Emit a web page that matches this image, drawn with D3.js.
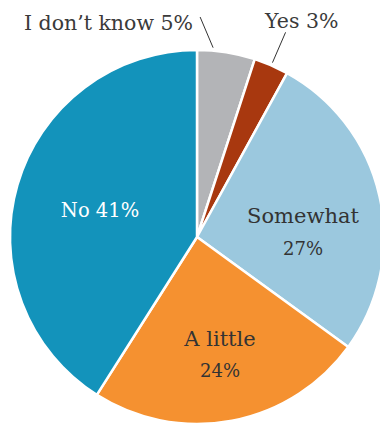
<!DOCTYPE html>
<html>
<head>
<meta charset="utf-8">
<script src="https://cdn.jsdelivr.net/npm/d3@7"></script>
<style>
  html, body { margin: 0; padding: 0; background: #fff; }
  svg { display: block; }
  text { font-family: "DejaVu Serif", "Liberation Serif", serif; }
</style>
</head>
<body>
<svg id="chart" width="380" height="423"></svg>
<script>
// Survey answers, clockwise from 12 o'clock
const categories = ["I don\u2019t know", "Yes", "Somewhat", "A little", "No"];
const shares = [5, 3, 27, 24, 41];
const colors = ["#b3b4b7", "#a8380f", "#9bc8de", "#f59130", "#1393bb"];

const width = 380, height = 423;
const cx = 197, cy = 237, radius = 187;

const svg = d3.select("#chart");
const g = svg.append("g").attr("transform", `translate(${cx},${cy})`);

const data = categories.map((c, i) => ({ name: c, value: shares[i], color: colors[i] }));

const pie = d3.pie().value(d => d.value).sort(null).startAngle(0).endAngle(2 * Math.PI);
const arcs = pie(data);
const arc = d3.arc().innerRadius(0).outerRadius(radius);

g.selectAll("path.slice")
  .data(arcs)
  .join("path")
  .attr("class", "slice")
  .attr("d", arc)
  .attr("fill", d => d.data.color)
  .attr("stroke", "#fff")
  .attr("stroke-width", 2.5)
  .attr("stroke-linejoin", "round");

// point at fraction t across a slice's angle, at radius r (0 = up)
function polar(a, t, r) {
  const ang = a.startAngle + (a.endAngle - a.startAngle) * t;
  return [Math.sin(ang) * r, -Math.cos(ang) * r];
}

// Outside labels with leader lines
const outside = {
  "I don\u2019t know": { from: [0.27, 190], to: [0.045, 220], label: [-4, -207], anchor: "end", size: 20.5 },
  "Yes": { from: [0.5, 190], to: [0.5, 223], label: [68, -209], anchor: "start", size: 20.5 }
};
// Inside labels: first line / second line positions relative to centre
const inside = {
  "Somewhat": { lines: 2, x: 106, ys: [-14, 18], fill: "#333", size: 21 },
  "A little": { lines: 2, x: 23, ys: [109, 140], fill: "#333", size: 21 },
  "No": { lines: 1, x: -97, ys: [-20], fill: "#fff", size: 19.5 }
};

arcs.forEach(a => {
  const o = outside[a.data.name];
  if (o) {
    const p1 = polar(a, o.from[0], o.from[1]);
    const p2 = polar(a, o.to[0], o.to[1]);
    g.append("line")
      .attr("x1", p1[0]).attr("y1", p1[1])
      .attr("x2", p2[0]).attr("y2", p2[1])
      .attr("stroke", "#333").attr("stroke-width", 1);
    g.append("text")
      .attr("x", o.label[0]).attr("y", o.label[1])
      .attr("text-anchor", o.anchor)
      .attr("font-size", o.size)
      .attr("fill", "#3a3a3a")
      .text(`${a.data.name} ${a.data.value}%`);
  }
  const ins = inside[a.data.name];
  if (ins) {
    const t = g.append("text")
      .attr("text-anchor", "middle")
      .attr("font-size", ins.size)
      .attr("fill", ins.fill);
    if (ins.lines === 2) {
      t.append("tspan").attr("x", ins.x).attr("y", ins.ys[0]).text(a.data.name);
      t.append("tspan").attr("x", ins.x).attr("y", ins.ys[1]).attr("font-size", 18).text(`${a.data.value}%`);
    } else {
      t.append("tspan").attr("x", ins.x).attr("y", ins.ys[0]).text(`${a.data.name} ${a.data.value}%`);
    }
  }
});
</script>
</body>
</html>
